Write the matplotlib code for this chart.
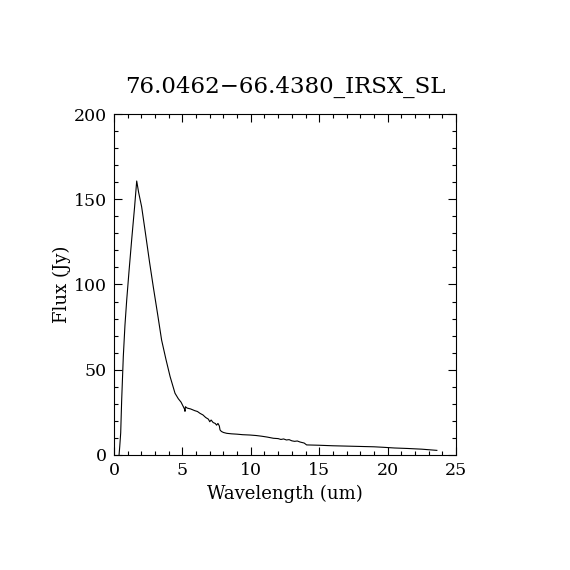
import matplotlib
matplotlib.use("Agg")
import matplotlib.pyplot as plt
from matplotlib.ticker import MultipleLocator

title = "76.0462\u221266.4380_IRSX_SL"
xlabel = "Wavelength (um)"
ylabel = "Flux (Jy)"

wavelength = [0.37, 0.42, 0.49, 0.56, 0.68, 0.80, 0.93, 1.10, 1.30, 1.50, 1.66,
              1.80, 2.02, 2.30, 2.60, 2.87, 3.20, 3.48, 3.80, 4.10, 4.46, 4.70,
              4.90, 5.07, 5.15, 5.19, 5.22, 5.35, 5.60, 5.90, 6.10, 6.29, 6.50,
              6.70, 6.90, 7.00, 7.10, 7.25, 7.40, 7.50, 7.60, 7.70, 7.75, 7.85,
              8.00, 8.24, 8.60, 9.00, 9.40, 9.94, 10.40, 10.80, 11.20, 11.65,
              12.00, 12.20, 12.40, 12.60, 12.80, 13.00, 13.20, 13.40, 13.60,
              13.90, 14.08, 15.00, 16.00, 17.00, 18.00, 19.00, 19.70, 20.50,
              21.50, 22.50, 23.60]
flux = [0.0, 5.0, 13.0, 32.0, 57.7, 76.0, 91.0, 108.0, 127.0, 145.0, 160.7,
        154.0, 145.6, 130.0, 113.0, 98.7, 82.0, 67.4, 56.0, 46.0, 36.2, 33.0,
        31.0, 28.3, 27.0, 25.6, 28.3, 27.5, 27.0, 26.0, 25.5, 24.4, 23.5,
        22.0, 21.0, 19.5, 20.5, 19.0, 18.5, 17.5, 18.5, 17.0, 14.7, 13.8,
        13.2, 12.7, 12.4, 12.2, 11.9, 11.7, 11.4, 11.0, 10.5, 9.8,
        9.6, 9.1, 9.4, 8.8, 9.0, 8.3, 8.0, 8.2, 7.6,
        7.0, 5.9, 5.7, 5.4, 5.2, 5.0, 4.8, 4.5, 4.1,
        3.8, 3.4, 2.7]

plt.rcParams['font.family'] = ['DejaVu Serif']
fig = plt.figure(figsize=(5.7, 5.7), dpi=100)
ax = fig.add_axes([0.2, 0.2018, 0.6, 0.5982])
ax.plot(wavelength, flux, color='black', linewidth=0.8)
ax.set_xlim(0, 25)
ax.set_ylim(0, 200)
ax.xaxis.set_major_locator(MultipleLocator(5))
ax.xaxis.set_minor_locator(MultipleLocator(1))
ax.yaxis.set_major_locator(MultipleLocator(50))
ax.yaxis.set_minor_locator(MultipleLocator(10))
ax.tick_params(which='both', direction='in', top=True, right=True, labelsize=12.5, width=0.8)
ax.tick_params(which='major', length=6, pad=5)
ax.tick_params(which='minor', length=3)
for s in ax.spines.values():
    s.set_linewidth(0.8)
ax.set_title(title, fontsize=16.5, pad=15)
ax.set_xlabel(xlabel, fontsize=13, labelpad=4)
ax.set_ylabel(ylabel, fontsize=13, labelpad=2)
fig.savefig("out.png", dpi=100)
